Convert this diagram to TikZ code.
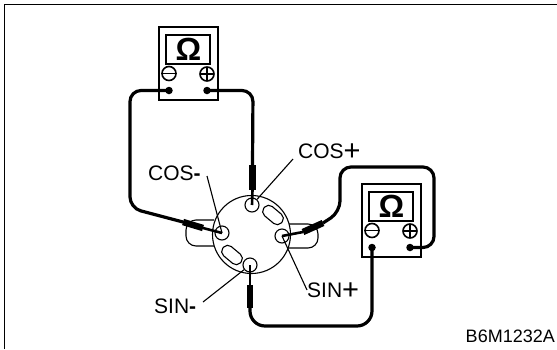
\documentclass[tikz,border=0pt]{standalone}
\usepackage{fontspec}
\setmainfont{Liberation Sans}
\tikzset{
  lbl/.style={font=\fontsize{21}{21}\selectfont,inner sep=0pt},
  leader/.style={line width=1.1pt},
  wire/.style={line width=3.2pt,rounded corners=11pt},
  sleeve/.style={line width=6.5pt},
  probe/.style={line width=2.6pt},
  pinhole/.style={draw,circle,fill=white,line width=1.1pt,minimum size=14pt,inner sep=0pt},
  terminal/.style={circle,fill=black,minimum size=7.5pt,inner sep=0pt},
  slot/.style={draw,fill=white,line width=1.1pt,rounded corners=5.5pt,minimum width=23pt,minimum height=12pt,inner sep=0pt}
}
\newcommand{\bigplus}{\raisebox{-2pt}{\fontsize{29}{29}\selectfont+}}
\begin{document}
\begin{tikzpicture}[x=1pt,y=-1pt]
        \useasboundingbox (0,0) rectangle (557,349);
        \draw[line width=1.4pt] (4.5,349) -- (4.5,4.5) -- (557,4.5);
        % meters
        \foreach \m/\x/\y in {a/159/27,b/362/184} {
                \begin{scope}[shift={(\x,\y)}]
                        \draw[line width=2pt] (0,0) rectangle (59,73);
                        \draw[line width=1.8pt] (7,8) rectangle (51,37);
                        \node[inner sep=0pt,font=\fontsize{32}{32}\selectfont\bfseries] (ohm\m) at (29.5,22.5) {Ω};
                        \draw[line width=1.6pt,fill=white] (10,46.5) circle (7);
                        \draw[line width=1.6pt] (4,46.5) -- (16,46.5);
                        \draw[line width=1.6pt,fill=white] (48,47) circle (7);
                        \draw[line width=1.6pt] (42,47) -- (54,47) (48,41) -- (48,53);
                        \node[terminal] (neg\m) at (10,63.5) {};
                        \node[terminal] (pos\m) at (48,63.5) {};
                \end{scope}
        }
        % connector body
        \draw[line width=1.1pt,rounded corners=10pt] (214,220) -- (186,220) -- (186,246) -- (216,246);
        \draw[line width=1.1pt,rounded corners=10pt] (288,224) -- (318,224) -- (318,248) -- (288,248);
        \draw[line width=1.1pt,fill=white] (251.5,234.5) circle (39);
        \node[slot,rotate=-40] (slotr) at (273,215) {};
        \node[slot,rotate=-40] (slotl) at (232,255) {};
        \node[pinhole] (pintop) at (252,205) {};
        \node[pinhole] (pinleft) at (222,233) {};
        \node[pinhole] (pinright) at (282,236) {};
        \node[pinhole] (pinbot) at (250,265) {};
        % labels
        \node[lbl,anchor=base west] (cosp) at (298,158) {COS\bigplus};
        \node[lbl,anchor=base west] (cosm) at (148,180) {COS\textbf{-}};
        \node[lbl,anchor=base west] (sinp) at (307,297) {SIN\bigplus};
        \node[lbl,anchor=base west] (sinm) at (154,313) {SIN\textbf{-}};
        \node[lbl,font=\fontsize{18}{18}\selectfont,anchor=base east] (code) at (555,342) {B6M1232A};
        % leaders
        \coordinate (lcp) at (293,159);
        \coordinate (lcm) at (207,176);
        \coordinate (lsp) at (307,290);
        \coordinate (lsm) at (203,302);
        \draw[leader] (lcp) -- (pintop);
        \draw[leader] (lcm) -- (pinleft.center);
        \draw[leader] (lsp) -- (pinright.center);
        \draw[leader] (lsm) -- (pinbot);
        % probes
        \coordinate (st) at (252.5,165);
        \coordinate (stb) at (252.5,190);
        \coordinate (sl) at (183,222);
        \coordinate (slb) at (203,228);
        \coordinate (sr) at (323,223);
        \coordinate (srb) at (303,232);
        \coordinate (sb) at (250,308);
        \coordinate (sbb) at (250,285);
        \draw[sleeve] (st) -- (stb);
        \draw[sleeve] (sl) -- (slb);
        \draw[sleeve] (sr) -- (srb);
        \draw[sleeve] (sb) -- (sbb);
        \draw[probe] (stb) -- (pintop.center);
        \draw[probe] (slb) -- (pinleft.center);
        \draw[probe] (srb) -- (pinright.center);
        \draw[probe] (sbb) -- (pinbot.center);
        % wires
        \draw[wire] (nega.center) -- (130,90.5) -- (130,208) -- (sl);
        \draw[wire] (posa.center) -- (253,90.5) -- (st);
        \draw[wire] (posb.center) -- (434,247.5) -- (434,167) -- (340,167) -- (340,212) -- (sr);
        \draw[wire,rounded corners=15pt] (negb.center) -- (372,326) -- (250,326) -- (sb);
\end{tikzpicture}
\end{document}
